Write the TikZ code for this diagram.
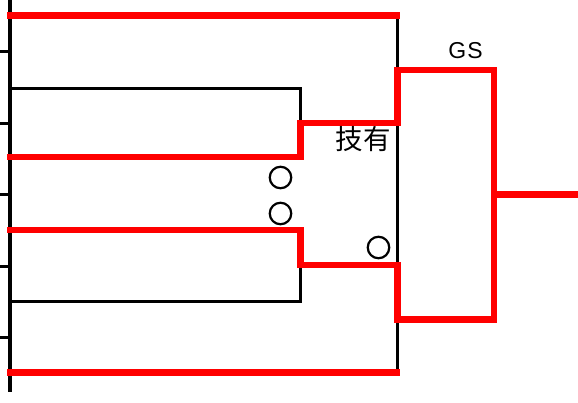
\documentclass[tikz,border=0pt]{standalone}
\usepackage{fontspec}
\setmainfont{Liberation Sans}
\newfontfamily\cjk{Noto Sans CJK JP}
\begin{document}
\begin{tikzpicture}[x=1pt,y=-1pt,
  blk/.style={draw=black,line width=3pt,line join=miter},
  win/.style={draw=red,line width=6.5pt,line join=miter},
  ring/.style={draw=black,line width=2.2pt,circle,minimum size=21.5pt,inner sep=0pt},
  lbl/.style={inner sep=0pt,font=\fontsize{23}{23}\selectfont}]
\useasboundingbox (0,0) rectangle (578,402);
% coordinates
\coordinate (t0) at (9.5,0);
\coordinate (t1) at (9.5,392);
\foreach \i/\y in {1/51.5,2/123,3/194.5,4/266,5/337}{
  \coordinate (k\i a) at (0,\y);
  \coordinate (k\i b) at (9.5,\y);
}
\coordinate (p1) at (7,15.5);
\coordinate (p2) at (9.5,88);
\coordinate (p3) at (7,157);
\coordinate (p4) at (7,230);
\coordinate (p5) at (9.5,301);
\coordinate (p6) at (7,372.5);
\coordinate (q1) at (300.5,88);
\coordinate (q2) at (300.5,123);
\coordinate (q3) at (300.5,157);
\coordinate (q4) at (300.5,230);
\coordinate (q5) at (300.5,265);
\coordinate (q6) at (300.5,301);
\coordinate (r0) at (399.5,15.5);
\coordinate (r1) at (397.5,15.5);
\coordinate (r2) at (397.5,123);
\coordinate (r3) at (397.5,70);
\coordinate (r4) at (397.5,265);
\coordinate (r5) at (397.5,319.5);
\coordinate (r6) at (397.5,372.5);
\coordinate (r7) at (399.5,372.5);
\coordinate (s1) at (494,70);
\coordinate (s2) at (494,194.5);
\coordinate (s3) at (494,319.5);
\coordinate (w) at (578,194.5);
% left spine and ticks
\draw[black,line width=4pt] (t0) -- (t1);
\foreach \i in {1,...,5}{ \draw[black,line width=3pt] (k\i a) -- (k\i b); }
% black (losing) lines
\draw[blk] (p2) -- (q1) -- (q2);
\draw[blk] (p5) -- (q6) -- (q5);
\draw[blk] (r1) -- (r6);
\draw[blk] (s1) -- (s3);
% red (winning) lines
\draw[win] (p1) -- (r0);
\draw[win] (p6) -- (r7);
\draw[win] (p3) -- (q3) -- (q2) -- (r2) -- (r3) -- (s1) -- (s2) -- (w);
\draw[win] (p4) -- (q4) -- (q5) -- (r4) -- (r5) -- (s3) -- (s2);
% marks
\node[ring] (c1) at (280.5,177.5) {};
\node[ring] (c2) at (280.5,213.5) {};
\node[ring] (c3) at (378.5,247.5) {};
\node[lbl] (gs) at (465.5,51) {G\kern1ptS};
\node[lbl,font=\cjk\fontsize{27.5}{27.5}\selectfont] (wz) at (363,139.5) {技有};
\end{tikzpicture}
\end{document}
